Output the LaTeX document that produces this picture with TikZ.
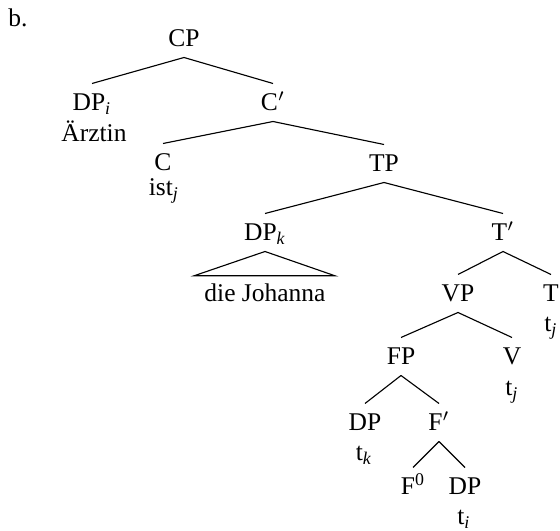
\documentclass[tikz,border=0pt]{standalone}
\usepackage{fontspec}
\setmainfont{Liberation Serif}
\usetikzlibrary{calc}
\newcommand{\sbi}[1]{\textsubscript{\itshape #1}}
\tikzset{
  cat/.style={inner sep=0pt, text height=10.8pt, text depth=4pt, anchor=base, font=\fontsize{10.2}{12}\selectfont},
  word/.style={inner sep=0pt, anchor=base, font=\fontsize{10.2}{12}\selectfont},
  branch/.style={line width=0.45pt}
}
\begin{document}
\begin{tikzpicture}[x=0.4pt,y=-0.4pt]
\useasboundingbox (0,0) rectangle (560,531);
\node[word, anchor=base west] (lbl) at (8,27) {b.};
\node[cat] (cp) at (184,47) {CP};
\node[cat] (dpi) at (92,111) {DP\sbi{i}};
\node[word] (arztin) at (94,142) {Ärztin};
\node[cat] (cbar) at (273,111) {C$'$};
\node[cat] (c) at (163,171) {C};
\node[word] (ist) at (164,196) {ist\sbi{j}};
\node[cat] (tp) at (384,172) {TP};
\node[cat] (dpk) at (265,241) {DP\sbi{k}};
\node[word] (dj) at (265,302) {die Johanna};
\node[cat] (tbar) at (503,241) {T$'$};
\node[cat] (vp) at (458,302) {VP};
\node[cat] (t) at (551,302) {T};
\node[word] (tj1) at (551,332) {t\sbi{j}};
\node[cat] (fp) at (401,365) {FP};
\node[cat] (v) at (512,365) {V};
\node[word] (tj2) at (512,396) {t\sbi{j}};
\node[cat] (dp1) at (365,431) {DP};
\node[word] (tk) at (364,461) {t\sbi{k}};
\node[cat] (fbar) at (439,431) {F$'$};
\node[cat] (f0) at (413,495) {F\textsuperscript{0}};
\node[cat] (dp2) at (465,495) {DP};
\node[word] (ti) at (464,525) {t\sbi{i}};
\draw[branch] (cp.south) -- (dpi.north);
\draw[branch] (cp.south) -- (cbar.north);
\draw[branch] (cbar.south) -- (c.north);
\draw[branch] (cbar.south) -- (tp.north);
\draw[branch] (tp.south) -- (dpk.north);
\draw[branch] (tp.south) -- (tbar.north);
\draw[branch] (dpk.south) -- ($(dj.north)+(-71,-8)$) -- ($(dj.north)+(70,-8)$) -- cycle;
\draw[branch] (tbar.south) -- (vp.north);
\draw[branch] (tbar.south) -- (t.north);
\draw[branch] (vp.south) -- (fp.north);
\draw[branch] (vp.south) -- (v.north);
\draw[branch] (fp.south) -- (dp1.north);
\draw[branch] (fp.south) -- (fbar.north);
\draw[branch] (fbar.south) -- (f0.north);
\draw[branch] (fbar.south) -- (dp2.north);
\end{tikzpicture}
\end{document}
